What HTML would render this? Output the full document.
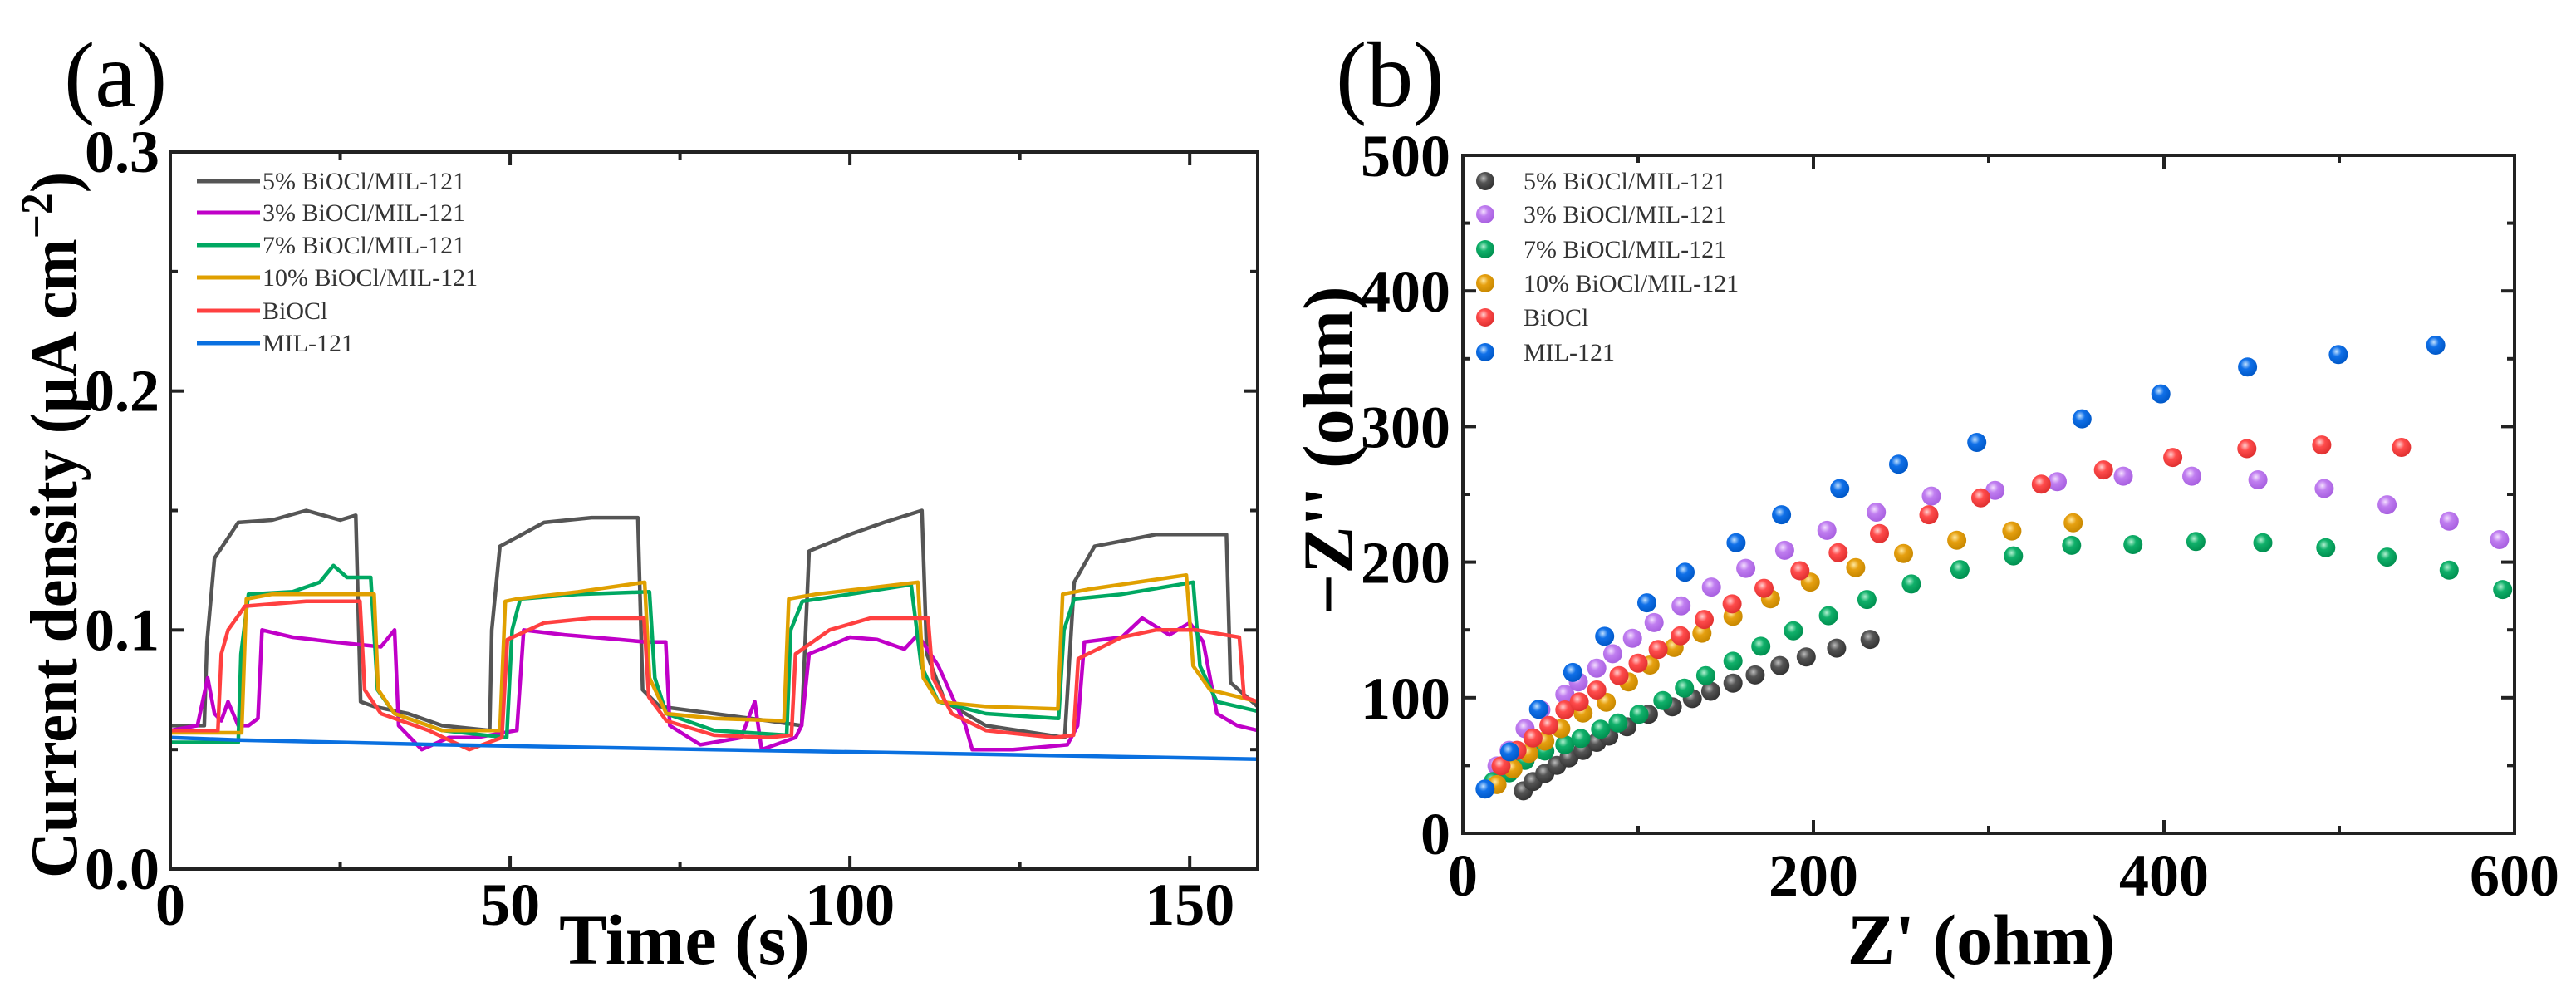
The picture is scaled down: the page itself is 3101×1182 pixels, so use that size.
<!DOCTYPE html>
<html><head><meta charset="utf-8"><style>
html,body{margin:0;padding:0;background:#fff;}
svg{display:block;}
text{font-family:"Liberation Serif","DejaVu Serif",serif;}
</style></head><body>
<svg id="fig" width="3101" height="1182" viewBox="0 0 3101 1182" xmlns="http://www.w3.org/2000/svg">
<defs>
<radialGradient id="gk" cx="0.4" cy="0.35" r="0.65"><stop offset="0" stop-color="#bbb"/><stop offset="0.4" stop-color="#555"/><stop offset="1" stop-color="#333"/></radialGradient>
<radialGradient id="gp" cx="0.4" cy="0.35" r="0.65"><stop offset="0" stop-color="#f4e0ff"/><stop offset="0.4" stop-color="#c07ef0"/><stop offset="1" stop-color="#a860e0"/></radialGradient>
<radialGradient id="gg" cx="0.4" cy="0.35" r="0.65"><stop offset="0" stop-color="#b0f0d0"/><stop offset="0.4" stop-color="#10b06a"/><stop offset="1" stop-color="#009050"/></radialGradient>
<radialGradient id="go" cx="0.4" cy="0.35" r="0.65"><stop offset="0" stop-color="#ffe8a0"/><stop offset="0.4" stop-color="#e6a010"/><stop offset="1" stop-color="#c88800"/></radialGradient>
<radialGradient id="gr" cx="0.4" cy="0.35" r="0.65"><stop offset="0" stop-color="#ffd0d0"/><stop offset="0.4" stop-color="#ff4c4c"/><stop offset="1" stop-color="#e03030"/></radialGradient>
<radialGradient id="gb" cx="0.4" cy="0.35" r="0.65"><stop offset="0" stop-color="#c0e0ff"/><stop offset="0.4" stop-color="#1070e8"/><stop offset="1" stop-color="#0058c8"/></radialGradient>
</defs>
<g id="pa"></g>
<g id="pb"></g>
</svg>
<script>
// ---------- Panel (a) data ----------
var aNames = ["5% BiOCl/MIL-121","3% BiOCl/MIL-121","7% BiOCl/MIL-121","10% BiOCl/MIL-121","BiOCl","MIL-121"];
var aColors = ["#555555","#c000c8","#00a862","#e0a000","#ff4040","#0a70e0"];
var aXTicks = [0,50,100,150];
var aYTicks = [0.0,0.1,0.2,0.3];
var aYTickLabels = ["0.0","0.1","0.2","0.3"];
var t5 = [0,5,5.4,6.5,10,15,20,25,27.3,28,30,35,40,47,47.3,48.5,55,62,68.8,69.5,72,80,88,92.9,94,100,105,110.6,111.3,114,120,131.6,133,136,145,155.4,156,160];
var v5 = [0.06,0.06,0.095,0.13,0.145,0.146,0.15,0.146,0.148,0.07,0.068,0.065,0.06,0.058,0.1,0.135,0.145,0.147,0.147,0.075,0.068,0.065,0.062,0.06,0.133,0.14,0.145,0.15,0.09,0.07,0.06,0.055,0.12,0.135,0.14,0.14,0.078,0.068];
var t3 = [0,4,5.5,6.5,7.5,8.5,10,11.5,12.9,13.5,18,24,31,33,33.6,37,41,45,51,52,58,66,70,72.9,73.5,78,84,86,87,92,92.9,94,100,104,108,110,113,117,118,124,132,133.5,134.5,140,143,147,150,152,154,157,160];
var v3 = [0.058,0.06,0.08,0.065,0.062,0.07,0.06,0.06,0.063,0.1,0.097,0.095,0.093,0.1,0.06,0.05,0.055,0.055,0.058,0.1,0.098,0.096,0.095,0.095,0.06,0.052,0.055,0.07,0.05,0.055,0.06,0.09,0.097,0.096,0.092,0.098,0.085,0.06,0.05,0.05,0.052,0.06,0.095,0.097,0.105,0.098,0.103,0.095,0.065,0.06,0.058];
var t7 = [0,10,10.4,11.5,18,22,24,26,29.5,30.5,33,40,49.5,50.3,51.5,60,70.5,71.3,73,80,90.7,91.3,93,100,109,110.5,113,120,130.7,131.5,133,140,150.5,151.5,154,160];
var v7 = [0.053,0.053,0.09,0.115,0.116,0.12,0.127,0.122,0.122,0.075,0.065,0.058,0.055,0.1,0.113,0.115,0.116,0.08,0.065,0.058,0.056,0.1,0.112,0.115,0.119,0.085,0.07,0.065,0.063,0.1,0.113,0.115,0.12,0.085,0.07,0.066];
var t10 = [0,10.5,11.2,15,30,30.6,33,40,48.5,49.3,51,60,69.8,70.5,73,80,90.3,91,95,110,110.8,113,120,130.6,131.3,135,149.5,150.5,153,160];
var v10 = [0.057,0.057,0.113,0.115,0.115,0.075,0.065,0.058,0.058,0.112,0.113,0.116,0.12,0.08,0.065,0.063,0.062,0.113,0.115,0.12,0.08,0.07,0.068,0.067,0.115,0.117,0.123,0.085,0.075,0.07];
var tR = [0,7,7.5,8.5,11,20,27.9,28.6,31,38,44,48.8,49.6,55,62,69.7,70.4,73,80,88,91.4,92,97,103,111.5,112.2,115,120,130,132.9,133.6,140,145,151,157.3,158,160];
var vR = [0.058,0.058,0.09,0.1,0.11,0.112,0.112,0.075,0.065,0.058,0.05,0.055,0.096,0.103,0.105,0.105,0.072,0.062,0.056,0.055,0.056,0.09,0.1,0.105,0.105,0.08,0.065,0.058,0.055,0.056,0.088,0.097,0.1,0.1,0.097,0.072,0.07];
var tM = [0,10,40,80,120,160];
var vM = [0.055,0.054,0.052,0.05,0.048,0.046];
var aT = [t5,t3,t7,t10,tR,tM];
var aV = [v5,v3,v7,v10,vR,vM];

// ---------- Panel (b) data ----------
var bNames = ["5% BiOCl/MIL-121","3% BiOCl/MIL-121","7% BiOCl/MIL-121","10% BiOCl/MIL-121","BiOCl","MIL-121"];
var bGrads = ["url(#gk)","url(#gp)","url(#gg)","url(#go)","url(#gr)","url(#gb)"];
var bXTicks = [0,200,400,600];
var bYTicks = [0,100,200,300,400,500];
var zr5 = [34.5,40,46.8,53.6,60.5,68.6,76.4,83.2,93.6,105.9,119.5,130.9,141.4,154.1,166.8,180.9,195.9,213.2,232.3];
var zi5 = [31.3,38.2,44.1,50.1,55.6,61.1,67.1,71.7,78.6,87.8,93.3,99.3,104.8,110.8,116.8,123.7,130.1,136.6,143];
var zr3 = [19.5,26.4,35.5,44.5,58.2,65.9,76.4,85.5,96.8,109.1,124.5,141.8,161.4,183.6,207.7,235.9,267.3,303.6,339.1,376.8,415.9,453.6,491.4,527.3,562.7,591.4];
var zi3 = [49.7,61.2,77.2,91,102.5,111.7,121.8,132.4,143.9,155.4,167.8,181.6,195.4,208.7,223.4,236.8,248.7,252.9,259.3,263.4,263.4,260.7,254.3,242.3,230.3,216.6];
var zr7 = [17.3,26.4,35.5,46.8,58.2,67.3,78.6,88.6,100.5,114.1,126.4,138.6,154.1,170,188.6,208.6,230.5,255.9,283.6,314.1,347.3,382.3,418.2,456.4,492.3,527.3,562.7,593.2];
var zi7 = [38.2,44.6,53.8,60.7,65.3,69.9,76.8,81.4,87.8,97.9,107.1,116.3,126.9,137.9,149.4,160.5,172.4,183.9,194.5,204.6,212.4,212.9,215.2,214.3,210.6,203.7,194.1,179.8];
var zr10 = [19.5,28.6,37.7,46.8,55.9,68.6,81.8,94.5,106.8,120.5,136.4,154.1,175.5,198.2,224.1,251.4,281.8,313.2,348.2];
var zi10 = [35.9,47.4,58.9,68,77.2,88.7,96.6,111.7,124.1,137,147.6,160,172.9,185.3,195.9,206.4,216.1,223,229];
var zrR = [21.8,30.9,40,49.1,58.2,66.4,76.4,89.1,100,111.4,124.1,137.7,153.6,171.8,192.3,214.1,237.7,265.9,295.5,330,365.5,405,447.3,490,535.5];
var ziR = [49.7,61.2,70.3,79.5,91,97,105.7,116.3,125.5,135.6,145.7,157.7,169.2,180.7,193.6,206.9,221.1,234.9,247.4,257.5,268,277.2,283.7,286.4,284.6];
var zrM = [12.7,26.8,43.2,62.7,80.9,105,126.8,155.9,181.8,215,248.6,293.2,353.2,398.2,447.7,499.5,555];
var ziM = [32.6,60.1,91.5,118.6,145.3,170,192.6,214.3,234.9,254.3,272.2,288.3,305.7,324.1,343.9,353.1,360];
var bR = [zr5,zr3,zr7,zr10,zrR,zrM];
var bI = [zi5,zi3,zi7,zi10,ziR,ziM];

var NS = "http://www.w3.org/2000/svg";
function mk(parent, tag, attrs, txt){
  var e = document.createElementNS(NS, tag);
  for (var k in attrs) e.setAttribute(k, attrs[k]);
  if (txt !== undefined) e.textContent = txt;
  parent.appendChild(e);
  return e;
}

// ---------- Panel (a) ----------
(function(){
  var g = document.getElementById('pa');
  var L=205,R=1514,T=183,B=1046, xmin=0,xmax=160,ymin=0,ymax=0.3;
  function X(v){return L+(v-xmin)/(xmax-xmin)*(R-L);}
  function Y(v){return B-(v-ymin)/(ymax-ymin)*(B-T);}
  var lab = mk(g,'text',{x:77,y:128,'font-size':112,fill:'#000'},'(a)');
  
  
  for (var s=0;s<aT.length;s++){
    var pts=[];
    for (var i=0;i<aT[s].length;i++) pts.push(X(aT[s][i]).toFixed(1)+','+Y(aV[s][i]).toFixed(1));
    var pl = mk(g,'polyline',{points:pts.join(' '),fill:'none',stroke:aColors[s],'stroke-width':4.5,'stroke-linejoin':'round'});
    
    
  }
  var fr = mk(g,'rect',{x:L,y:T,width:R-L,height:B-T,fill:'none',stroke:'#222','stroke-width':4});
  
  
  for (var v=0; v<=160; v+=25){
    var maj = (v%50===0), len = maj?16:9;
    mk(g,'line',{x1:X(v),x2:X(v),y1:B,y2:B-len,stroke:'#222','stroke-width':4});
    mk(g,'line',{x1:X(v),x2:X(v),y1:T,y2:T+len,stroke:'#222','stroke-width':4});
  }
  for (var k=0;k<=6;k++){
    var yv=k*0.05, maj=(k%2===0), len=maj?16:9;
    mk(g,'line',{x1:L,x2:L+len,y1:Y(yv),y2:Y(yv),stroke:'#222','stroke-width':4});
    mk(g,'line',{x1:R,x2:R-len,y1:Y(yv),y2:Y(yv),stroke:'#222','stroke-width':4});
  }
  for (var i=0;i<aXTicks.length;i++){
    var t = mk(g,'text',{x:X(aXTicks[i]),y:1113,'font-size':72,'font-weight':'bold','text-anchor':'middle'},String(aXTicks[i]));
    
    
  }
  for (var i=0;i<aYTicks.length;i++){
    var t = mk(g,'text',{x:192,y:Y(aYTicks[i])+24,'font-size':72,'font-weight':'bold','text-anchor':'end'},aYTickLabels[i]);
    
    
  }
  var xt = mk(g,'text',{x:824,y:1160,'font-size':86,'font-weight':'bold','text-anchor':'middle'},'Time (s)');
  
  
  var yt = mk(g,'text',{x:0,y:0,'font-size':80,'font-weight':'bold','text-anchor':'middle',transform:'translate(92,632) rotate(-90)',textLength:850,lengthAdjust:'spacingAndGlyphs'});
  
  
  yt.appendChild(document.createTextNode('Current density (μA cm'));
  mk(yt,'tspan',{dy:-30,'font-size':54},'−2');
  mk(yt,'tspan',{dy:30},')');
  var ly=[218,256,295,334,374,413];
  for (var s=0;s<aNames.length;s++){
    var lg = mk(g,'g',{});
    
    
    mk(lg,'line',{x1:237,x2:313,y1:ly[s],y2:ly[s],stroke:aColors[s],'stroke-width':5});
    mk(lg,'text',{x:316,y:ly[s]+10,'font-size':30,fill:'#333'},aNames[s]);
  }
})();

// ---------- Panel (b) ----------
(function(){
  var g = document.getElementById('pb');
  var L=1761,R=3027,T=187,B=1003, xmin=0,xmax=600,ymin=0,ymax=500;
  function X(v){return L+(v-xmin)/(xmax-xmin)*(R-L);}
  function Y(v){return B-(v-ymin)/(ymax-ymin)*(B-T);}
  var lab = mk(g,'text',{x:1608,y:128,'font-size':112,fill:'#000'},'(b)');
  
  
  for (var s=0;s<bR.length;s++){
    var sg = mk(g,'g',{});
    
    
    for (var i=0;i<bR[s].length;i++){
      var c = mk(sg,'circle',{cx:X(bR[s][i]).toFixed(1),cy:Y(bI[s][i]).toFixed(1),r:11.5,fill:bGrads[s]});
      
      
    }
  }
  var fr = mk(g,'rect',{x:L,y:T,width:R-L,height:B-T,fill:'none',stroke:'#222','stroke-width':4});
  
  
  for (var v=0; v<=600; v+=100){
    var maj=(v%200===0), len=maj?16:9;
    mk(g,'line',{x1:X(v),x2:X(v),y1:B,y2:B-len,stroke:'#222','stroke-width':4});
    mk(g,'line',{x1:X(v),x2:X(v),y1:T,y2:T+len,stroke:'#222','stroke-width':4});
  }
  for (var v=0; v<=500; v+=50){
    var maj=(v%100===0), len=maj?16:9;
    mk(g,'line',{x1:L,x2:L+len,y1:Y(v),y2:Y(v),stroke:'#222','stroke-width':4});
    mk(g,'line',{x1:R,x2:R-len,y1:Y(v),y2:Y(v),stroke:'#222','stroke-width':4});
  }
  for (var i=0;i<bXTicks.length;i++){
    var t = mk(g,'text',{x:X(bXTicks[i]),y:1078,'font-size':72,'font-weight':'bold','text-anchor':'middle'},String(bXTicks[i]));
    
    
  }
  for (var i=0;i<bYTicks.length;i++){
    var t = mk(g,'text',{x:1746,y:Y(bYTicks[i])+25,'font-size':72,'font-weight':'bold','text-anchor':'end'},String(bYTicks[i]));
    
    
  }
  var xt = mk(g,'text',{x:2385,y:1160,'font-size':86,'font-weight':'bold','text-anchor':'middle'},"Z' (ohm)");
  
  
  var yt = mk(g,'text',{x:0,y:0,'font-size':86,'font-weight':'bold','text-anchor':'middle',transform:'translate(1628,542) rotate(-90)'},"−Z'' (ohm)");
  
  
  var ly=[218,258,300,341,382,424];
  for (var s=0;s<bNames.length;s++){
    var lg = mk(g,'g',{});
    
    
    mk(lg,'circle',{cx:1788,cy:ly[s],r:11,fill:bGrads[s]});
    mk(lg,'text',{x:1834,y:ly[s]+10,'font-size':30,fill:'#333'},bNames[s]);
  }
})();
</script>
</body></html>
